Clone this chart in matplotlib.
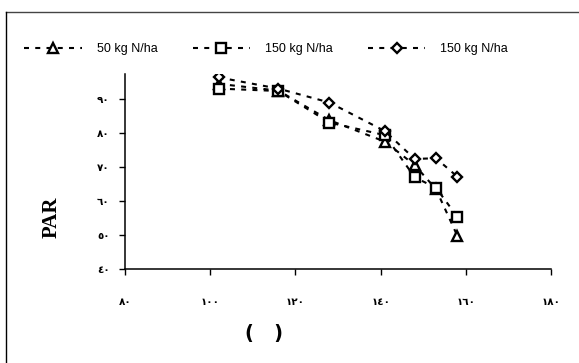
import matplotlib
matplotlib.use("Agg")
import matplotlib.pyplot as plt
from matplotlib.lines import Line2D

# values
x_vals = [102, 116, 128, 141, 148, 153, 158]
tri_vals = [94.5, 92.5, 83.8, 77.5, 70.6, 63.5, 49.8]
sq_vals = [93.1, 92.4, 83.1, 79.4, 67.0, 63.9, 55.4]
dia_vals = [96.4, 93.1, 89.0, 80.6, 72.4, 72.6, 67.2]
labels = ["50 kg N/ha", "150 kg N/ha", "150 kg N/ha"]

x_ticks = [80, 100, 120, 140, 160, 180]
y_ticks = [40, 50, 60, 70, 80, 90]


def arabic_digits(v):
    return str(v).translate(str.maketrans("0123456789", "٠١٢٣٤٥٦٧٨٩"))


W, H = 579, 363
fig = plt.figure(figsize=(W / 100, H / 100), dpi=100)
ax = fig.add_axes([125 / W, 1 - 269 / H, (551 - 125) / W, (269 - 74) / H])

style = dict(color="black", lw=1.5, linestyle=(0, (2.4, 3)),
             mfc="white", mec="black", mew=1.7)
ax.plot(x_vals, tri_vals, marker="^", ms=6.5, label=labels[0], **style)
ax.plot(x_vals, sq_vals, marker="s", ms=6.5, label=labels[1], **style)
ax.plot(x_vals, dia_vals, marker="D", ms=5.5, label=labels[2], **style)

ax.set_xlim(80, 180)
ax.set_ylim(40, 97.4)
ax.set_xticks(x_ticks)
ax.set_yticks(y_ticks)
ax.set_xticklabels([arabic_digits(v) for v in x_ticks], fontsize=7.5,
                   fontweight="bold", family="DejaVu Sans")
ax.set_yticklabels([arabic_digits(v) for v in y_ticks], fontsize=7.5,
                   fontweight="bold", family="DejaVu Sans")
ax.tick_params(axis="x", direction="out", length=4, width=1, pad=16)
ax.tick_params(axis="y", direction="out", length=4, width=1, pad=7)
for s in ["top", "right"]:
    ax.spines[s].set_visible(False)
for s in ["left", "bottom"]:
    ax.spines[s].set_linewidth(1.1)

fig.text(52 / W, 1 - 217 / H, "PAR", rotation=90, ha="center", va="center",
         fontsize=15, fontweight="bold", family="Liberation Serif")
fig.text(264 / W, 1 - 333 / H, "(   )", ha="center", va="center",
         fontsize=14, fontweight="bold", family="DejaVu Sans")

fig.legend(loc="center left", bbox_to_anchor=(13 / W, 1 - 49 / H), ncol=3,
           frameon=False, handlelength=4.6, handletextpad=1.2,
           columnspacing=2.8, prop={"family": "Liberation Sans", "size": 9})

# outer frame (only top and left edges are visible in the picture)
fig.add_artist(Line2D([6 / W, 1], [1 - 12 / H, 1 - 12 / H], color="#444444",
                      lw=1, transform=fig.transFigure))
fig.add_artist(Line2D([6 / W, 6 / W], [0, 1 - 12 / H], color="black",
                      lw=1, transform=fig.transFigure))

fig.savefig("out.png", dpi=100)
